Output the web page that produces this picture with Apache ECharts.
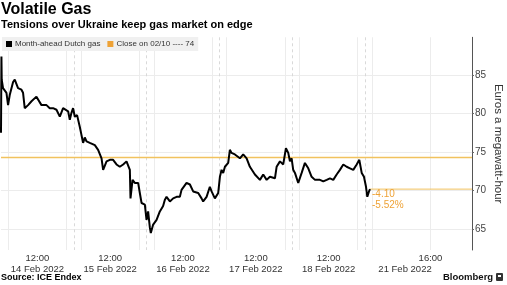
<!DOCTYPE html>
<html>
<head>
<meta charset="utf-8">
<script src="https://cdn.jsdelivr.net/npm/echarts@6/dist/echarts.min.js"></script>
<style>
html,body{margin:0;padding:0;background:#fff;}
#chart{width:507px;height:285px;}
</style>
</head>
<body>
<div id="chart"></div>
<script>
// Trading-time hours since 14 Feb 2022 07:00 (each session 07:00-17:00 = 10 h)
const hours = [0, 0.06, 0.1, 0.28, 0.75, 0.97, 1.2, 1.66, 1.89, 2.34, 2.81, 3.03, 3.26, 3.72, 4.19, 4.41, 4.87, 5.09, 5.56, 5.78, 6.25, 6.7, 7.15, 7.62, 8.08, 8.53, 8.76, 9.22, 9.45, 9.68, 9.9,
  10.14, 10.45, 10.82, 11.06, 11.28, 11.51, 11.75, 12.2, 12.89, 13.34, 13.81, 14.03, 14.5, 14.95, 15.4, 15.87, 16.32, 16.78, 17.24, 17.46, 17.7, 17.79, 18.07, 18.38, 18.84, 19.07, 19.31, 19.76,
  19.99, 20.21, 20.45, 20.58, 20.9, 21.37, 21.82, 22.27, 22.5, 22.74, 22.96, 23.2, 23.65, 24.12, 24.57, 24.8, 25.49, 25.95, 26.4, 27.09, 27.55, 27.77, 28.24, 28.69, 28.93, 29.38, 29.84,
  30.07, 30.3, 30.52, 30.76, 31.21, 31.44, 31.67, 32.13, 32.82, 33.27, 33.74, 34.19, 34.88, 35.57, 36.02, 36.49, 36.94, 37.63, 37.86, 38.32, 38.77, 39.14, 39.46, 39.69, 39.92,
  40.14, 40.38, 40.83, 41.3, 41.75, 42.21, 42.67, 43.13, 43.81, 44.27, 44.74, 45.19, 45.64, 46.11, 46.56, 47.02, 47.48, 47.94, 48.39, 48.86, 49.22, 49.55, 49.86,
  50.14, 50.32, 50.55, 50.69];
const prices = [77.5, 87.4, 84.4, 83.3, 82.7, 81.1, 82.4, 84.1, 84.4, 83.3, 83.1, 82.7, 80.7, 81.1, 81.6, 81.8, 82.2, 82.0, 81.1, 80.9, 81.1, 80.7, 80.7, 80.5, 79.6, 80.7, 80.9, 80.3, 79.2, 80.1, 80.7,
  79.6, 79.8, 78.3, 77.2, 76.2, 76.9, 76.4, 76.2, 75.9, 75.3, 74.2, 72.7, 73.8, 74.0, 74.0, 73.4, 73.1, 73.4, 73.8, 73.6, 72.7, 69.0, 71.4, 71.0, 71.0, 69.7, 68.4, 68.2,
  66.2, 67.3, 65.2, 64.5, 65.6, 66.2, 67.3, 68.0, 68.8, 69.2, 69.0, 68.6, 69.0, 69.2, 69.2, 70.1, 71.0, 70.8, 69.9, 69.7, 69.0, 68.6, 69.2, 70.5, 69.9, 69.0, 69.7,
  71.8, 72.7, 72.3, 73.1, 73.6, 75.3, 74.9, 74.7, 74.2, 74.7, 74.2, 73.1, 72.1, 71.4, 72.1, 71.4, 71.8, 71.6, 73.1, 73.8, 73.4, 75.5, 74.9, 73.8, 74.2,
  72.7, 72.3, 71.0, 72.3, 73.6, 72.9, 71.8, 71.4, 71.4, 71.2, 71.4, 71.6, 71.4, 72.1, 72.7, 73.4, 73.1, 72.9, 72.7, 73.4, 74.0, 72.3, 71.8,
  70.5, 69.2, 69.9, 70.2];
const closeValue = 74.3;               // close on 02/10
const closeLabel = 'Close on 02/10 ---- 74';
const seriesName = 'Month-ahead Dutch gas';
const yTicks = [65, 70, 75, 80, 85];
const labelHours = [5, 15, 25, 35, 45, 59];
const timeLabels = ['12:00', '12:00', '12:00', '12:00', '12:00', '16:00'];
const dateLabels = ['14 Feb 2022', '15 Feb 2022', '16 Feb 2022', '17 Feb 2022', '18 Feb 2022', ''];
const lastDateHour = 55.5;
const lastDateLabel = '21 Feb 2022';
const dayBreaks = [10, 20, 30, 40, 50];
const sessionMarks = [1, 9, 11, 19, 21, 29, 31, 39, 41, 49, 51, 59];

const X_MIN = 0, X_MAX = 64.7, Y_MIN = 62.3, Y_MAX = 89.9;
const ORANGE = '#eea236';
const PALE = '#f1c25e';
const FONT = 'Liberation Sans, Arial, sans-serif';

const data = hours.map((h, i) => [h, prices[i]]);
const last = data[data.length - 1];
const chg = last[1] - closeValue;
const pct = chg / closeValue * 100;

const chart = echarts.init(document.getElementById('chart'), null, {renderer: 'canvas'});
const option = {
  animation: false,
  backgroundColor: '#fff',
  color: ['#000', ORANGE, PALE, PALE],
  textStyle: {fontFamily: FONT},
  title: [
    {text: 'Volatile Gas', left: 1, top: 2, padding: 0, textStyle: {fontSize: 16, fontWeight: 'bold', color: '#000', fontFamily: FONT}},
    {text: 'Tensions over Ukraine keep gas market on edge', left: 1, top: 19, padding: 0, textStyle: {fontSize: 11, fontWeight: 'bold', color: '#000', fontFamily: FONT}},
    {text: 'Source: ICE Endex', left: 1, top: 273.5, padding: 0, textStyle: {fontSize: 9, fontWeight: 'bold', color: '#000', fontFamily: FONT}},
    {text: 'Bloomberg', left: 443, top: 272, padding: 0, textStyle: {fontSize: 9.5, fontWeight: 'bold', color: '#111', fontFamily: FONT}}
  ],
  graphic: [
    {type: 'rect', left: 496, top: 273, shape: {width: 7, height: 8, r: 1}, style: {fill: '#333'}},
    {type: 'rect', left: 498, top: 275, shape: {width: 3, height: 2}, style: {fill: '#fff'}}
  ],
  legend: {
    left: 2, top: 37, padding: [3, 4, 3, 4], itemGap: 7,
    backgroundColor: '#f0f0f0',
    itemWidth: 6, itemHeight: 6,
    textStyle: {fontSize: 8, color: '#333', fontFamily: FONT, padding: [0, 0, 0, -2]},
    data: [
      {name: seriesName, icon: 'rect', itemStyle: {color: '#000'}},
      {name: closeLabel, icon: 'rect', itemStyle: {color: ORANGE}}
    ]
  },
  grid: {left: 1, right: 35, top: 37.3, bottom: 35, containLabel: false, outerBoundsMode: 'none'},
  xAxis: [
    {
      type: 'value', min: X_MIN, max: X_MAX,
      axisLine: {show: false, onZero: false},
      axisTick: {show: false, customValues: sessionMarks},
      splitLine: {show: true, lineStyle: {color: '#ececec', width: 1}},
      axisLabel: {
        customValues: labelHours, color: '#333', fontSize: 9.5, lineHeight: 11, margin: 3,
        formatter: function (v) { const i = labelHours.indexOf(v); return timeLabels[i] + '\n' + dateLabels[i]; }
      }
    },
    {
      type: 'value', min: X_MIN, max: X_MAX, position: 'bottom',
      axisLine: {show: false, onZero: false},
      axisTick: {show: false, customValues: dayBreaks},
      splitLine: {show: true, lineStyle: {color: '#d9d9d9', width: 1, type: [3, 3]}},
      axisLabel: {
        customValues: [lastDateHour], color: '#333', fontSize: 9.5, lineHeight: 11, margin: 3,
        formatter: function () { return '\n' + lastDateLabel; }
      }
    }
  ],
  yAxis: {
    type: 'value', position: 'right', min: Y_MIN, max: Y_MAX,
    name: 'Euros a megawatt-hour', nameLocation: 'middle', nameRotate: -90, nameGap: 20, nameMoveOverlap: false,
    nameTextStyle: {fontSize: 11.5, color: '#333', fontFamily: FONT},
    axisLine: {show: true, onZero: false, lineStyle: {color: '#555', width: 1}},
    axisTick: {show: true, customValues: yTicks, length: 2, lineStyle: {color: '#666'}},
    axisLabel: {customValues: yTicks, color: '#444', fontSize: 10, margin: 3},
    splitLine: {show: true, lineStyle: {color: '#ececec', width: 1}}
  },
  series: [
    {
      name: seriesName, type: 'line', data: data, showSymbol: false, symbol: 'none',
      lineStyle: {color: '#000', width: 2}, itemStyle: {color: '#000'},
      z: 5,
      endLabel: {
        show: true, distance: 2, offset: [0, 11], color: ORANGE, fontSize: 10, lineHeight: 11,
        formatter: function () { return chg.toFixed(2) + '\n' + pct.toFixed(2) + '%'; }
      }
    },
    {
      name: closeLabel, type: 'line', data: [], itemStyle: {color: ORANGE}
    },
    {
      name: 'closeLine', type: 'line', showSymbol: false, symbol: 'none', silent: true, z: 3,
      color: PALE,
      data: [[X_MIN, closeValue], [X_MAX, closeValue]],
      itemStyle: {color: PALE},
      lineStyle: {color: PALE, width: 1.5, opacity: 1}
    },
    {
      name: 'lastLine', type: 'line', showSymbol: false, symbol: 'none', silent: true, z: 3,
      color: PALE,
      data: [[last[0], last[1]], [X_MAX, last[1]]],
      itemStyle: {color: PALE},
      lineStyle: {color: PALE, width: 1, opacity: 1}
    }
  ]
};
chart.setOption(option);
</script>
</body>
</html>
